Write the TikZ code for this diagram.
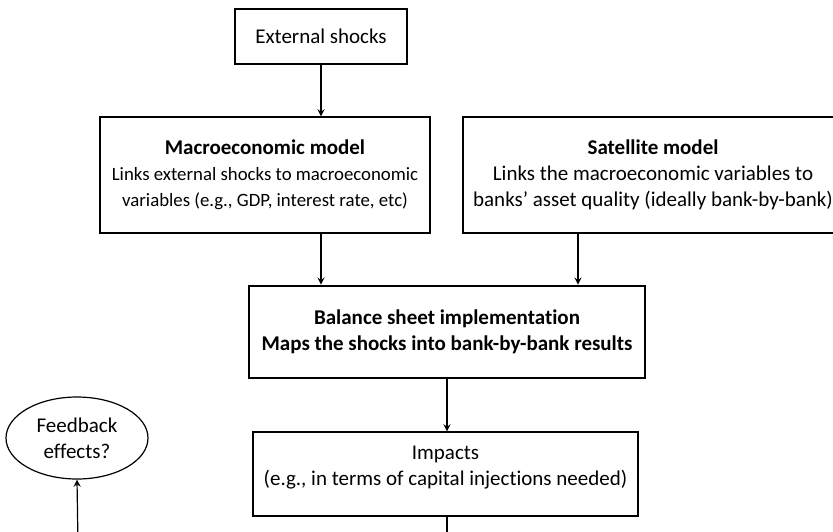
\documentclass[tikz,border=0pt]{standalone}
\usepackage{fontspec}
\setmainfont{Carlito}[Ligatures=NoCommon]
\usetikzlibrary{shapes.geometric,positioning,arrows}

\tikzset{
  stepbox/.style={draw, line width=0.6pt, rectangle, align=center, inner sep=2pt},
  mainbox/.style={stepbox, line width=1.3pt},
  flow/.style={->, >=stealth, line width=0.6pt}
}
\newcommand{\smalltext}{\fontsize{9.4}{13}\selectfont}

\begin{document}
\begin{tikzpicture}[x=0.5pt, y=-0.5pt, font=\fontsize{10.5}{13}\selectfont]
\useasboundingbox (0,0) rectangle (833,531);
\clip (0,0) rectangle (833,531);
% stress test flow
\node[stepbox, minimum width=86pt, minimum height=27.5pt] (ext) at (321,36.5) {External shocks};
\node[stepbox, minimum width=165pt, minimum height=58pt] (macro) at (265,175)
  {\textbf{Macroeconomic model}\\{\smalltext Links external shocks to macroeconomic}\\{\smalltext variables (e.g., GDP, interest rate, etc)}};
\node[stepbox, minimum width=190pt, minimum height=58pt] (sat) at (653,175)
  {\textbf{Satellite model}\\Links the macroeconomic variables to\\banks' asset quality (ideally bank-by-bank)};
\node[mainbox, minimum width=198pt, minimum height=46pt, font=\fontsize{10.5}{13}\selectfont\bfseries] (bal) at (447,332)
  {Balance sheet implementation\\Maps the shocks into bank-by-bank results};
\node[stepbox, minimum width=192.5pt, minimum height=42pt] (imp) at (445.5,474)
  {Impacts\\(e.g., in terms of capital injections needed)\\[-4.5pt]\mbox{}};
\node[draw, line width=0.6pt, ellipse, align=center, minimum width=71pt, minimum height=41pt, inner sep=0pt] (fb) at (77,438)
  {Feedback\\effects?};

\coordinate (impout) at (447,545);
\coordinate (fbin) at (78,545);

\draw[flow] (ext) -- (ext |- macro.north);
\draw[flow] (macro.south -| ext) -- (bal.north -| ext);
\draw[flow] ([xshift=-37.5pt]sat.south) -- ([xshift=-37.5pt]sat.south |- bal.north);
\draw[flow] (bal.south) -- (bal.south |- imp.north);
\draw[line width=0.6pt] (imp.south -| bal.south) -- (impout);
\draw[flow] (fbin) -- (fb.south);
\end{tikzpicture}
\end{document}
